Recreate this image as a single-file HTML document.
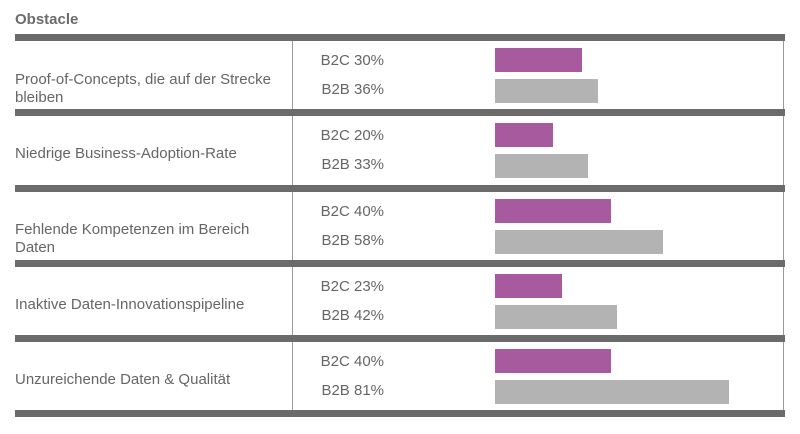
<!DOCTYPE html><html><head><style>
body{margin:0;width:800px;height:434px;background:#fff;position:relative;overflow:hidden;font-family:"Liberation Sans",sans-serif;color:#666;}
div{position:absolute;}
.hb{left:15px;width:770px;height:7px;background:#6b6b6b;}
.t{font-size:15px;line-height:18px;}
.lab{font-size:15px;line-height:18px;left:310px;width:74px;text-align:right;}
.c{background:#a75a9e;height:24px;left:495px;}
.b{background:#b3b3b3;height:24px;left:495px;}
</style></head><body>
<div class="t" style="left:15px;top:11px;font-weight:bold;color:#6b6b6b">Obstacle</div>
<div style="left:292px;top:40px;width:1px;height:372px;background:#999"></div>
<div style="left:783px;top:40px;width:1px;height:372px;background:#999"></div>
<div class="hb" style="top:34px"></div>
<div class="hb" style="top:109px"></div>
<div class="hb" style="top:185px"></div>
<div class="hb" style="top:260px"></div>
<div class="hb" style="top:335px"></div>
<div class="hb" style="top:410px"></div>

<div class="t" style="left:15px;top:71px">Proof-of-Concepts, die auf der Strecke<br>bleiben</div>
<div class="lab" style="top:52px">B2C 30%</div><div class="lab" style="top:81px">B2B 36%</div>
<div class="c" style="top:48px;width:87px"></div><div class="b" style="top:79px;width:103px"></div>

<div class="t" style="left:15px;top:145px">Niedrige Business-Adoption-Rate</div>
<div class="lab" style="top:127px">B2C 20%</div><div class="lab" style="top:156px">B2B 33%</div>
<div class="c" style="top:123px;width:58px"></div><div class="b" style="top:154px;width:93px"></div>

<div class="t" style="left:15px;top:221px">Fehlende Kompetenzen im Bereich<br>Daten</div>
<div class="lab" style="top:203px">B2C 40%</div><div class="lab" style="top:232px">B2B 58%</div>
<div class="c" style="top:199px;width:116px"></div><div class="b" style="top:230px;width:168px"></div>

<div class="t" style="left:15px;top:296px">Inaktive Daten-Innovationspipeline</div>
<div class="lab" style="top:278px">B2C 23%</div><div class="lab" style="top:307px">B2B 42%</div>
<div class="c" style="top:274px;width:67px"></div><div class="b" style="top:305px;width:122px"></div>

<div class="t" style="left:15px;top:371px">Unzureichende Daten &amp; Qualität</div>
<div class="lab" style="top:353px">B2C 40%</div><div class="lab" style="top:382px">B2B 81%</div>
<div class="c" style="top:349px;width:116px"></div><div class="b" style="top:380px;width:234px"></div>
</body></html>
